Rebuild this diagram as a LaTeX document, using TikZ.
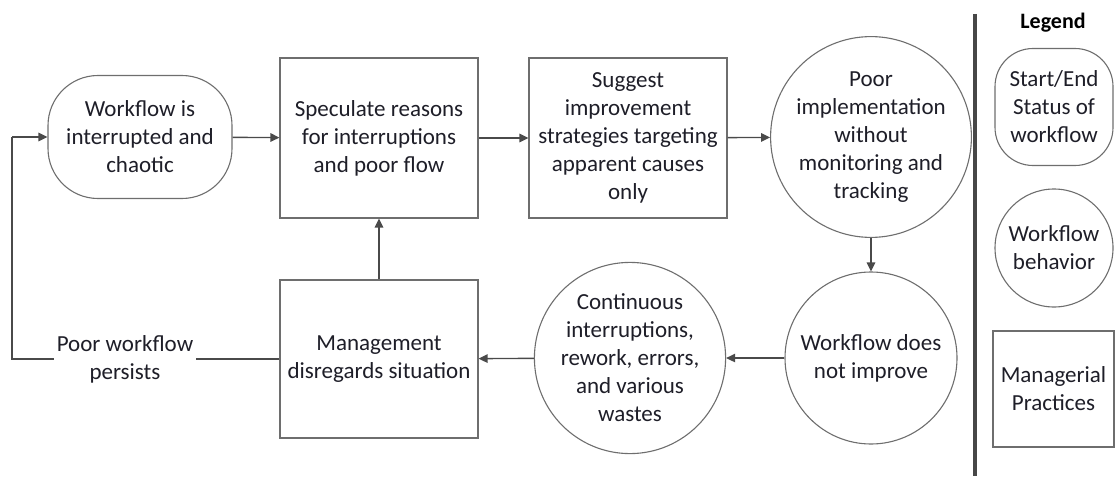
\documentclass[tikz,border=0pt]{standalone}
\usepackage{fontspec}
\setmainfont{Carlito}
\usetikzlibrary{arrows.meta}
\definecolor{edgegray}{HTML}{6E6E6E}
\definecolor{arrowgray}{HTML}{4A4A4A}
\definecolor{txt}{HTML}{1E1E28}
\begin{document}
\begin{tikzpicture}[x=1pt,y=-1pt,
  base/.style={draw=edgegray, line width=1.1pt, fill=white, text=txt, align=center,
    font=\fontsize{23}{28}\selectfont, inner sep=1pt},
  stadium/.style={base, rectangle, rounded corners=#1},
  stadium/.default=50pt,
  procbox/.style={base, rectangle},
  behave/.style={base, circle},
  flow/.style={draw=arrowgray, line width=1.4pt, -{Triangle[length=9pt,width=8.5pt]}},
  plain/.style={draw=arrowgray, line width=1.4pt},
  lbl/.style={fill=white, text=txt, align=center, font=\fontsize{23}{28}\selectfont, inner sep=3pt}
]
\useasboundingbox (0,0) rectangle (1115,476);

% main flow, top row
\node[stadium, minimum width=184pt, minimum height=123pt] (start) at (140,137) {Workflow is\\interrupted and\\chaotic};
\node[procbox, minimum width=198pt, minimum height=160pt] (spec) at (379,138) {Speculate reasons\\for interruptions\\and poor flow};
\node[procbox, minimum width=198pt, minimum height=160pt] (sugg) at (628,138) {Suggest\\improvement\\strategies targeting\\apparent causes\\only};
\node[behave, minimum size=172pt] (impl) at (871,137) {Poor\\implementation\\without\\monitoring and\\tracking};

% main flow, bottom row
\node[behave, minimum size=172pt] (noimp) at (871,358) {Workflow does\\not improve};
\node[behave, minimum size=170pt] (cont) at (630,358) {Continuous\\interruptions,\\rework, errors,\\and various\\wastes};
\node[procbox, minimum width=198pt, minimum height=158pt] (mgmt) at (379,359) {Management\\disregards situation};

% connectors
\draw[flow] (start) -- (spec);
\draw[flow] (spec) -- (sugg);
\draw[flow] (sugg) -- (impl);
\draw[flow] (impl) -- (noimp);
\draw[flow] (noimp) -- (cont);
\draw[flow] (cont) -- (mgmt);
\draw[flow] (mgmt) -- (spec);

% feedback loop back to the start
\coordinate (loopb) at (12,359);
\coordinate (loopt) at (12,137);
\draw[plain] (mgmt.west) -- (loopb) -- (loopt);
\draw[flow] (loopt) -- (start.west);
\node[lbl] (persist) at (125,359) {Poor workflow\\persists};

% legend
\draw[line width=4.5pt, color=black!72] (975,14) -- (975,476);
\node[text=black, font=\fontsize{22}{24}\selectfont\bfseries] (legend) at (1053,23) {Legend};
\node[stadium=38pt, minimum width=118pt, minimum height=117pt] (lgstart) at (1054,107) {Start/End\\Status of\\workflow};
\node[behave, minimum size=118pt] (lgbeh) at (1054,248) {Workflow\\behavior};
\node[procbox, minimum width=121pt, minimum height=116pt] (lgman) at (1053.5,389) {Managerial\\Practices};
\end{tikzpicture}
\end{document}
